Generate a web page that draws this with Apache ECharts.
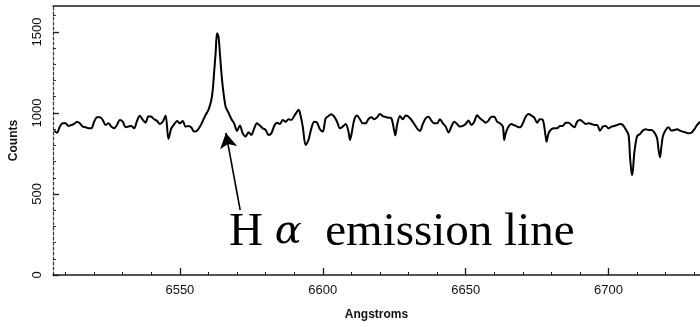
<!DOCTYPE html>
<html>
<head>
<meta charset="utf-8">
<script src="https://cdn.jsdelivr.net/npm/echarts@6/dist/echarts.min.js"></script>
<style>
html,body{margin:0;padding:0;background:#fff;}
#chart{width:700px;height:327px;}
</style>
</head>
<body>
<div id="chart"></div>
<script>
// Wavelength (Angstroms) sample positions
const wavelengths = [
6506,6507,6508,6509,6510,6511,6512,6513,6514,6515,6516,6517,6518,6519,6520,
6521,6522,6523,6524,6525,6526,6527,6528,6529,6530,6531,6532,6533,6534,6535,
6536,6537,6538,6539,6540,6541,6542,6543,6544,6545,6546,6547,6548,6549,6550,
6551,6552,6553,6554,6555,6556,6557,6558,6559,6560,6561,6561.5,6562,6562.5,6563,
6563.5,6564,6564.5,6565,6566,6567,6568,6569,6570,6571,6572,6573,6574,6575,6576,
6577,6578,6579,6580,6581,6582,6583,6584,6585,6586,6587,6588,6589,6590,6591,
6591.5,6592,6593,6594,6595,6596,6597,6598,6599,6600,6601,6602,6603,6604,6605,
6606,6607,6608,6609,6609.5,6610,6611,6612,6613,6614,6615,6616,6617,6618,6619,
6620,6621,6622,6623,6624,6625,6625.4,6626,6627,6628,6629,6630,6631,6632,6633,
6634,6635,6636,6637,6638,6639,6640,6641,6642,6643,6644,6645,6646,6647,6648,
6649,6650,6651,6652,6653,6654,6655,6656,6657,6658,6659,6660,6661,6662,6663,
6663.5,6664,6665,6666,6667,6668,6669,6670,6671,6672,6673,6674,6675,6676,6677,
6678,6678.3,6679,6680,6681,6682,6683,6684,6685,6686,6687,6688,6689,6690,6691,
6692,6693,6694,6695,6696,6697,6698,6699,6700,6701,6702,6703,6704,6705,6706,
6707,6707.5,6708,6708.3,6709,6710,6711,6712,6713,6714,6715,6716,6717,6717.5,6718,
6718.5,6719,6720,6721,6722,6723,6724,6725,6726,6727,6728,6729,6730,6731,6732
];
// Counts
const counts = [
891,878,916,936,936,920,926,932,946,936,916,912,905,905,946,
973,973,957,926,936,916,905,926,957,946,912,916,920,905,951,
982,957,940,980,977,961,951,932,946,984,840,905,930,950,936,
950,915,920,910,885,890,915,950,988,1019,1080,1142,1255,1368,1492,
1471,1368,1255,1163,1039,1002,963,935,889,922,874,854,881,864,905,
936,922,905,895,864,874,920,940,932,957,946,961,957,981,1008,
1019,1002,916,802,833,905,946,940,899,885,967,981,992,977,946,
905,916,932,885,833,864,957,984,961,936,936,963,973,961,973,
994,981,975,971,967,890,862,926,981,961,984,977,957,932,905,
889,932,967,977,953,936,936,961,936,916,879,916,946,932,916,
920,932,953,926,946,986,967,953,940,953,977,977,946,936,916,
833,874,916,932,924,916,911,936,977,994,984,971,940,961,957,
854,823,874,899,905,905,920,920,940,940,926,911,946,957,946,
932,936,932,926,926,890,916,920,905,916,920,926,932,926,899,
864,730,638,617,751,858,870,891,899,895,895,880,843,772,726,
792,854,895,911,891,895,899,891,885,880,874,878,899,926,946
];
const xLabelTicks = [6550, 6600, 6650, 6700];
const xMinorTicks = [6510,6520,6530,6540,6550,6560,6570,6580,6590,6600,6610,6620,6630,6640,6650,6660,6670,6680,6690,6700,6710,6720,6730];
const yLabelTicks = [0, 500, 1000, 1500];
const annotationText = 'emission line';

const X_MIN = 6505.6, X_MAX = 6732, Y_MIN = 0, Y_MAX = 1660;
const AXIS_COLOR = '#1a1a1a';
const plain = v => String(Math.round(v));

const chart = echarts.init(document.getElementById('chart'), null, {renderer: 'canvas'});
const seriesData = wavelengths.map((w, i) => [w, counts[i]]);

const option = {
  animation: false,
  backgroundColor: '#fff',
  grid: {left: 52, right: 0, top: 6, bottom: 52},
  xAxis: [
    {
      type: 'value', min: X_MIN, max: X_MAX, position: 'bottom',
      name: 'Angstroms', nameLocation: 'middle', nameGap: 34,
      nameTextStyle: {fontFamily: 'Liberation Sans', fontSize: 12, fontWeight: 'bold', color: '#111'},
      axisLine: {show: true, onZero: false, lineStyle: {color: AXIS_COLOR, width: 1.5}},
      axisTick: {show: true, inside: true, length: 7, customValues: xLabelTicks, lineStyle: {color: AXIS_COLOR, width: 1.3}},
      axisLabel: {show: true, customValues: xLabelTicks, formatter: plain, margin: 9, fontFamily: 'Liberation Sans', fontSize: 13, color: '#111'},
      splitLine: {show: false}
    },
    {
      type: 'value', min: X_MIN, max: X_MAX, position: 'bottom',
      axisLine: {show: false},
      axisTick: {show: true, inside: true, length: 3, customValues: xMinorTicks, lineStyle: {color: AXIS_COLOR, width: 1}},
      axisLabel: {show: false},
      splitLine: {show: false}
    },
    {
      type: 'value', min: X_MIN, max: X_MAX, position: 'top',
      axisLine: {show: true, onZero: false, lineStyle: {color: AXIS_COLOR, width: 1.5}},
      axisTick: {show: false},
      axisLabel: {show: false},
      splitLine: {show: false}
    }
  ],
  yAxis: {
    type: 'value', min: Y_MIN, max: Y_MAX, interval: 500,
    name: 'Counts', nameLocation: 'middle', nameGap: 33, nameRotate: 90,
    nameTextStyle: {fontFamily: 'Liberation Sans', fontSize: 12, fontWeight: 'bold', color: '#111'},
    axisLine: {show: true, onZero: false, lineStyle: {color: '#333', width: 1.2, type: [3, 2]}},
    axisTick: {show: true, inside: true, length: 6, customValues: yLabelTicks, lineStyle: {color: AXIS_COLOR, width: 1.3}},
    minorTick: {show: true, splitNumber: 5, length: 3, lineStyle: {color: '#333', width: 1}},
    axisLabel: {show: true, customValues: yLabelTicks, formatter: plain, rotate: 90, margin: 9, fontFamily: 'Liberation Sans', fontSize: 13, color: '#111'},
    splitLine: {show: false}
  },
  series: [{
    type: 'line',
    xAxisIndex: 0,
    data: seriesData,
    showSymbol: false,
    smooth: 0.3,
    lineStyle: {color: '#000', width: 2},
    markLine: {
      silent: true,
      symbol: ['none', 'arrow'],
      symbolSize: [13, 15],
      label: {show: false},
      lineStyle: {color: '#000', width: 1.6, type: 'solid'},
      data: [[{coord: [6571.1, 401]}, {coord: [6566.1, 877]}]]
    }
  }]
};
chart.setOption(option);

// Annotation text positioned in data coordinates
const anchor = chart.convertToPixel({gridIndex: 0}, [6567.2, 259]);
chart.setOption({
  graphic: [{
    type: 'text',
    x: anchor[0], y: anchor[1],
    style: {
      text: '{h|H} {a|α}  {e|' + annotationText + '}',
      verticalAlign: 'middle',
      align: 'left',
      rich: {
        h: {fontFamily: 'Liberation Serif', fontSize: 47, fill: '#000'},
        a: {fontFamily: 'DejaVu Serif', fontStyle: 'italic', fontSize: 40, fill: '#000'},
        e: {fontFamily: 'Liberation Serif', fontSize: 47, fill: '#000'}
      },
      fontFamily: 'Liberation Serif', fontSize: 47, fill: '#000'
    }
  }]
});
</script>
</body>
</html>
